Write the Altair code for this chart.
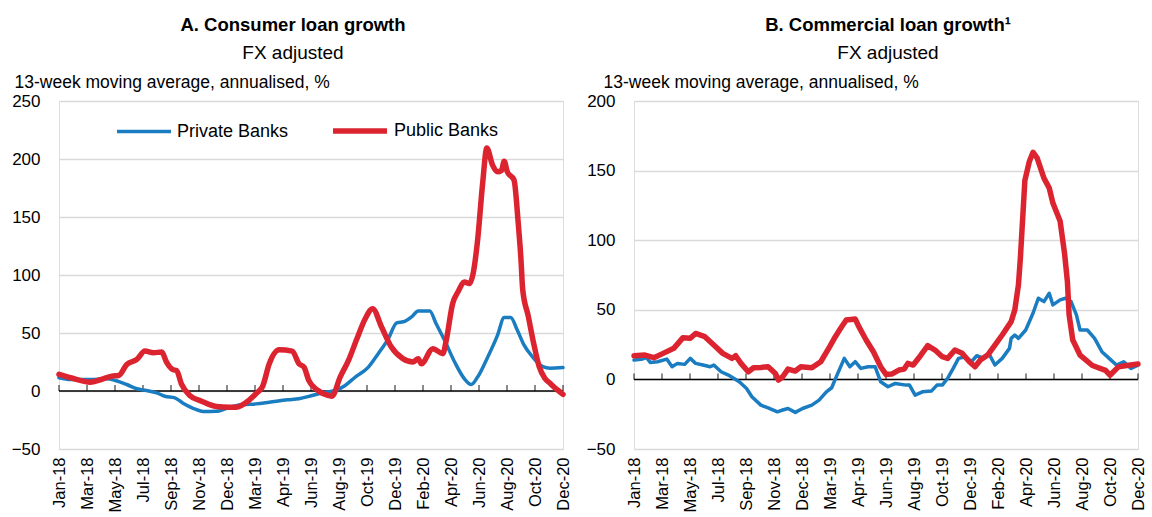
import altair as alt
import pandas as pd

FONT = "Liberation Sans, Arial, sans-serif"

x_labels = ["Jan-18", "Mar-18", "May-18", "Jul-18", "Sep-18", "Nov-18", "Dec-18",
            "Mar-19", "Apr-19", "Jun-19", "Aug-19", "Oct-19", "Dec-19", "Feb-20",
            "Apr-20", "Jun-20", "Aug-20", "Oct-20", "Dec-20"]
series_names = ["Private Banks", "Public Banks"]
series_colors = ["#1a7cc1", "#dc2430"]
series_widths = [3.5, 5.5]

# Panel A: consumer loan growth (x in tick units, 0 = Jan-18, 18 = Dec-20)
a_private_t = [0, 0.41, 1.12, 1.71, 2.01, 2.42, 2.78, 3.13, 3.49, 3.78, 4.14, 4.43, 4.79, 5.14,
               5.62, 6.09, 6.56, 7.04, 7.51, 8.16, 8.57, 9.04, 9.52, 9.87, 10.22, 10.58, 11.05,
               11.4, 11.76, 12.06, 12.35, 12.59, 12.83, 13.24, 13.47, 13.77, 14.13, 14.48, 14.72,
               14.95, 15.31, 15.66, 15.9, 16.13, 16.37, 16.6, 16.9, 17.28, 17.54, 18]
a_private_v = [11.4, 9.9, 9.9, 10.5, 9.1, 5.6, 1.9, 0.4, -1.6, -4.5, -5.9, -10.5, -14.9, -17.7,
               -17.5, -14, -11.7, -11.1, -9.7, -7.6, -6.7, -3.9, -1, 0.4, 4.8, 12, 20.6,
               32.2, 45, 58.7, 60, 63.8, 69, 69, 58, 43.7, 25, 10.5, 5.6,
               12, 29.2, 48, 63.3, 63.3, 52.3, 40, 29.8, 21, 19.7, 20.2]
a_public_t = [0, 0.41, 1.12, 1.48, 1.89, 2.13, 2.42, 2.78, 3.07, 3.37, 3.67, 3.84, 4.08, 4.2, 4.37,
              4.67, 5.09, 5.62, 6.09, 6.33, 6.8, 7.09, 7.27, 7.51, 7.86, 8.33, 8.57, 8.75, 8.92,
              9.22, 9.63, 9.75, 10.04, 10.34, 10.64, 10.94, 11.2, 11.52, 11.87, 12.28, 12.65,
              12.83, 12.94, 13.35, 13.71, 13.83, 14.06, 14.25, 14.48, 14.66, 14.78, 14.95, 15.13,
              15.28, 15.48, 15.66, 15.8, 15.9, 16.01, 16.25, 16.4, 16.5, 16.56, 16.76, 16.95,
              17.15, 17.35, 17.54, 17.8, 18]
a_public_v = [14.3, 11.4, 7.6, 9.7, 12.8, 13.4, 22.9, 27.2, 34.4, 33, 33.6, 24.9, 18.3, 17.7, 6.2,
              -3.9, -8.8, -13.4, -14, -14, -7.6, -1, 3.9, 23.5, 35.5, 34.4, 23.5, 20.6, 9.1,
              1, -3.9, -4.5, 12, 26.4, 45, 62.5, 71, 55.2, 37.9, 27.9, 25,
              27.9, 23.5, 36.5, 32.2, 43.7, 75.4, 85.5, 94, 92.6, 100, 130, 179,
              209.5, 195, 189, 190, 198, 189, 182, 145, 113, 87.6, 64.5, 41.3,
              21, 11, 6.6, 0.9, -2.9]

# Panel B: commercial loan growth
b_private_t = [0, 0.26, 0.45, 0.58, 0.84, 1.17, 1.36, 1.55, 1.81, 2.01, 2.2, 2.46, 2.72, 2.85,
               3.11, 3.37, 3.76, 4.02, 4.21, 4.53, 4.79, 5.12, 5.31, 5.5, 5.76, 6.02, 6.35, 6.61,
               6.87, 7.06, 7.25, 7.51, 7.71, 7.9, 8.1, 8.36, 8.61, 8.81, 9.07, 9.33, 9.72, 9.84,
               10.04, 10.3, 10.62, 10.82, 11.01, 11.2, 11.4, 11.59, 11.85, 12.05, 12.24, 12.5,
               12.69, 12.89, 13.15, 13.41, 13.47, 13.6, 13.73, 13.99, 14.25, 14.44, 14.64, 14.83,
               14.96, 15.22, 15.41, 15.61, 15.8, 15.93, 16.19, 16.45, 16.71, 16.97, 17.23, 17.49,
               17.75, 18]
b_private_v = [13.9, 14.4, 15.6, 12.2, 12.7, 14.6, 9.1, 11.5, 10.8, 15.1, 11.5, 10.3, 9.1, 10.3,
               5.5, 3.1, -1.7, -6.5, -12.5, -18.5, -20.4, -23.3, -22, -20.9, -23.7, -20.9, -18.5,
               -14.9, -8.9, -6, 3.1, 15.1, 9.1, 12.7, 7.9, 9.1, 9.1, -1.7, -5.3, -2.9, -4.1, -4.1,
               -11.3, -8.9, -8.4, -4.1, -4.1, 0.7, 7.9, 15.1, 16.3, 12.7, 17, 15.1,
               18, 10.3, 15.1, 22.3, 29.5, 31.9, 29.5, 35.5, 47.5, 58.3, 55.9, 61.9,
               53.5, 57.1, 58.3, 55.9, 46.3, 35.5, 35.5, 29.5, 19.9, 15.1, 10.3, 12.7,
               7.9, 10.3]
b_public_t = [0, 0.39, 0.71, 1.04, 1.42, 1.75, 2.01, 2.2, 2.53, 2.85, 3.17, 3.5, 3.63, 3.82, 4.08,
              4.27, 4.53, 4.79, 5.05, 5.16, 5.31, 5.5, 5.76, 5.96, 6.35, 6.67, 6.99, 7.19, 7.38,
              7.58, 7.9, 8.03, 8.29, 8.55, 8.81, 9.0, 9.2, 9.46, 9.65, 9.78, 9.97, 10.23, 10.49,
              10.75, 11.01, 11.2, 11.46, 11.72, 11.98, 12.18, 12.37, 12.63, 12.89, 13.15, 13.47,
              13.6, 13.73, 13.8, 13.96, 14.12, 14.25, 14.4, 14.64, 14.83, 14.96, 15.22, 15.38,
              15.48, 15.54, 15.67, 15.93, 16.37, 16.84, 17.0, 17.3, 17.6, 18]
b_public_v = [17, 17.5, 15.6, 18.7, 22.3, 30, 29.5, 33, 30.7, 24.7, 18.7, 15.1, 17, 11.5, 5.5,
              8.4, 8.6, 9.1, 4.3, -0.5, 1.9, 7.4, 6, 9.1, 8.4, 12.7, 23.5, 30.7, 36.7,
              42.7, 43.4, 37.9, 28.3, 19.9, 9.1, 3.6, 3.8, 6.7, 7.4, 11.5, 10.3, 17, 24.2,
              21.1, 16.3, 15.1, 21.1, 18.7, 12.7, 9.1, 13.9, 17.5, 24.7, 31.9, 41.5,
              49.9, 67.9, 87.4, 143, 156.6, 163.2, 159, 144.6, 137.5, 126.7, 113.6, 90,
              70, 46.3, 28.3, 17.5, 10, 6.5, 3, 9, 10, 11]

label_expr = "[" + ",".join("'" + s + "'" for s in x_labels) + "][datum.value]"


def panel(title, priv_t, priv_v, pub_t, pub_v, y_lo, y_hi, y_step, title_dx, axis_title_x, interp):
    df = pd.concat([
        pd.DataFrame({"t": priv_t, "v": priv_v, "series": series_names[0]}),
        pd.DataFrame({"t": pub_t, "v": pub_v, "series": series_names[1]}),
    ])
    ticks_df = pd.DataFrame({"t": list(range(len(x_labels))), "v": 0})
    zero_df = pd.DataFrame({"v": [0]})

    x_enc = alt.X("t:Q", scale=alt.Scale(domain=[0, len(x_labels) - 1], nice=False, zero=False),
                  axis=alt.Axis(values=list(range(len(x_labels))), labelExpr=label_expr,
                                labelAngle=270, labelOverlap=False, labelFlush=False,
                                labelFont=FONT, labelFontSize=16.5, labelColor="black",
                                labelPadding=8, ticks=False, domain=False, grid=False,
                                title=None))
    y_enc = alt.Y("v:Q", scale=alt.Scale(domain=[y_lo, y_hi], nice=False, zero=False),
                  axis=alt.Axis(values=list(range(y_lo, y_hi + 1, y_step)),
                                labelFont=FONT, labelFontSize=17, labelColor="black",
                                labelPadding=19, ticks=False, domain=False,
                                grid=True, gridColor="#d9d9d9", gridWidth=1.5,
                                title="13-week moving average, annualised, %",
                                titleAngle=0, titleAlign="left", titleBaseline="alphabetic",
                                titleX=axis_title_x, titleY=-14, titleFont=FONT,
                                titleFontSize=17.5, titleFontWeight="normal", titleColor="black"))

    leg = alt.Legend(orient="none", legendX=56, legendY=0, direction="horizontal", title=None,
                     symbolType="stroke", symbolSize=2916, labelFont=FONT, labelFontSize=18,
                     labelColor="black", columnPadding=33, labelOffset=4)

    zero = alt.Chart(zero_df).mark_rule(color="black", strokeWidth=1.5).encode(y=y_enc)
    ticks = alt.Chart(ticks_df).mark_tick(orient="vertical", size=6, thickness=1.3, yOffset=-3,
                                          color="black").encode(x=x_enc, y=y_enc)
    lines = alt.Chart(df).mark_line(interpolate=interp, strokeCap="round",
                                    strokeJoin="round").encode(
        x=x_enc, y=y_enc,
        color=alt.Color("series:N", scale=alt.Scale(domain=series_names, range=series_colors),
                        legend=leg),
        strokeWidth=alt.StrokeWidth("series:N",
                                    scale=alt.Scale(domain=series_names, range=series_widths),
                                    legend=leg),
    )
    return alt.layer(zero, ticks, lines).properties(
        width=504, height=348,
        title=alt.TitleParams(text=title, subtitle="FX adjusted", font=FONT, fontSize=18.5,
                              fontWeight="bold", color="black", subtitleFont=FONT,
                              subtitleFontSize=19, subtitleColor="black", anchor="middle",
                              dx=title_dx, offset=10, subtitlePadding=10),
    )


left = panel("A. Consumer loan growth", a_private_t, a_private_v, a_public_t, a_public_v,
             -50, 250, 50, -18, -45, "monotone")
right = panel("B. Commercial loan growth\u00b9", b_private_t, b_private_v, b_public_t, b_public_v,
              -50, 200, 50, 2, -31, "linear")

chart = alt.hconcat(left, right, spacing=13).properties(
    padding={"left": 10, "top": 15, "right": 0, "bottom": 0}
).configure_view(stroke=None).configure(background="white")

chart.save("out.html", embed_options={"renderer": "svg", "actions": False})
